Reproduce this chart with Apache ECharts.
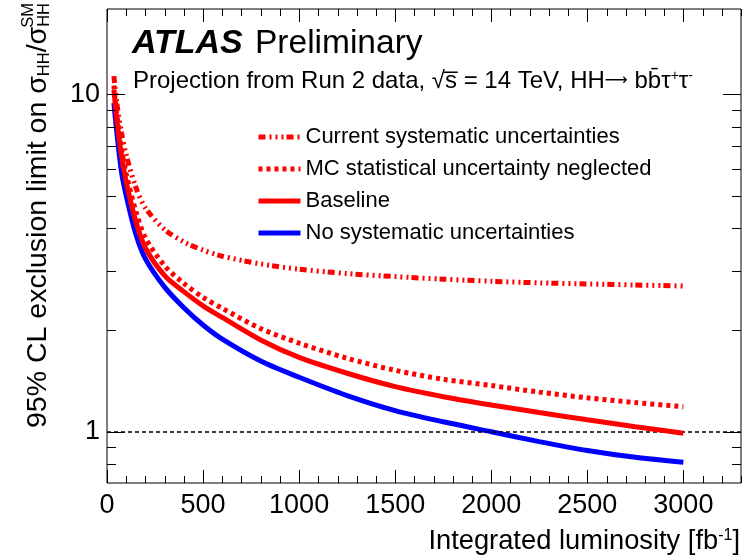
<!DOCTYPE html>
<html>
<head>
<meta charset="utf-8">
<script src="https://cdn.jsdelivr.net/npm/echarts@6/dist/echarts.min.js"></script>
<style>
  html, body { margin: 0; padding: 0; background: #fff; }
  #chart { width: 756px; height: 560px; }
</style>
</head>
<body>
<div id="chart"></div>
<script>
  // integrated luminosity points [fb-1]
  var lumi = [36, 50, 75, 100, 150, 200, 300, 400, 500, 600, 800, 1000, 1250, 1500, 1750, 2000, 2250, 2500, 2750, 3000];
  // 95% CL limit on sigma_HH / sigma_HH^SM
  var currentSyst = [11.3, 9.5, 7.7, 6.6, 5.3, 4.6, 3.97, 3.65, 3.45, 3.31, 3.14, 3.03, 2.94, 2.88, 2.83, 2.79, 2.76, 2.74, 2.72, 2.70];
  var mcStatNeglected = [10.6, 8.8, 6.9, 5.8, 4.5, 3.75, 3.1, 2.75, 2.5, 2.32, 2.02, 1.83, 1.65, 1.52, 1.43, 1.37, 1.31, 1.26, 1.22, 1.186];
  var baseline = [10.3, 8.5, 6.6, 5.5, 4.2, 3.5, 2.9, 2.6, 2.36, 2.18, 1.87, 1.66, 1.49, 1.36, 1.27, 1.2, 1.14, 1.085, 1.035, 0.99];
  var noSyst = [9.4, 7.8, 5.9, 5.0, 3.85, 3.25, 2.68, 2.33, 2.07, 1.88, 1.62, 1.45, 1.28, 1.155, 1.07, 1.0, 0.935, 0.88, 0.84, 0.812];

  var seriesNames = ['Current systematic uncertainties', 'MC statistical uncertainty neglected', 'Baseline', 'No systematic uncertainties'];
  var yLabels = [1, 10];
  var yTicks = [0.8, 0.9, 1, 2, 3, 4, 5, 6, 7, 8, 9, 10];
  var xTicks = [];
  for (var t = 0; t <= 3300; t += 100) xTicks.push(t);

  var FONT = '"Liberation Sans", Arial, Helvetica, sans-serif';
  var X_MIN = 0, X_MAX = 3300, Y_MIN = 0.705, Y_MAX = 17.86;

  function pairs(vals) {
    return lumi.map(function (x, i) { return [x, vals[i]]; });
  }

  function lineSeries(name, vals, color, dash, z) {
    return {
      name: name,
      type: 'line',
      data: pairs(vals),
      smooth: 0.3,
      symbol: 'none',
      z: z,
      lineStyle: { color: color, width: 5, type: dash, cap: 'butt' },
      itemStyle: { color: color }
    };
  }

  var chart = echarts.init(document.getElementById('chart'), null, { renderer: 'canvas' });

  var series = [
    lineSeries(seriesNames[0], currentSyst, '#ff0000', [7, 4, 2, 4, 2, 4, 2, 3], 5),
    lineSeries(seriesNames[1], mcStatNeglected, '#ff0000', [4, 4], 5),
    lineSeries(seriesNames[2], baseline, '#ff0000', 'solid', 5),
    lineSeries(seriesNames[3], noSyst, '#0000ff', 'solid', 4)
  ];
  series[3].markLine = {
    silent: true,
    symbol: 'none',
    label: { show: false },
    lineStyle: { color: '#000', width: 1.5, type: [4, 3] },
    data: [{ yAxis: 1 }]
  };

  // ROOT style inward ticks on all four sides
  series.push({
    type: 'custom',
    silent: true,
    z: 10,
    data: xTicks.map(function (v) { return [v, 1]; }),
    renderItem: function (params, api) {
      var v = api.value(0);
      var cs = params.coordSys;
      var x = Math.round(api.coord([v, 1])[0]) + 0.5;
      var len = v % 500 === 0 ? 13 : 7;
      var st = { stroke: '#000', lineWidth: 1 };
      return {
        type: 'group',
        children: [
          { type: 'line', shape: { x1: x, y1: cs.y + cs.height, x2: x, y2: cs.y + cs.height - len }, style: st },
          { type: 'line', shape: { x1: x, y1: cs.y, x2: x, y2: cs.y + len }, style: st }
        ]
      };
    }
  });
  series.push({
    type: 'custom',
    silent: true,
    z: 10,
    data: yTicks.map(function (v) { return [0, v]; }),
    renderItem: function (params, api) {
      var v = api.value(1);
      var cs = params.coordSys;
      var y = Math.round(api.coord([0, v])[1]) + 0.5;
      var len = yLabels.indexOf(v) >= 0 ? 18 : 9;
      var st = { stroke: '#000', lineWidth: 1 };
      return {
        type: 'group',
        children: [
          { type: 'line', shape: { x1: cs.x, y1: y, x2: cs.x + len, y2: y }, style: st },
          { type: 'line', shape: { x1: cs.x + cs.width, y1: y, x2: cs.x + cs.width - len, y2: y }, style: st }
        ]
      };
    }
  });

  var option = {
    animation: false,
    backgroundColor: '#fff',
    grid: {
      left: 107, right: 15, top: 9, bottom: 77,
      show: true, borderColor: '#000', borderWidth: 1, backgroundColor: 'transparent'
    },
    legend: {
      data: seriesNames,
      orient: 'vertical',
      left: 251,
      top: 121,
      itemWidth: 42,
      itemHeight: 22,
      itemGap: 10,
      selectedMode: false,
      itemStyle: { opacity: 0 },
      lineStyle: { width: 5 },
      textStyle: { fontSize: 22, color: '#000', fontFamily: FONT }
    },
    xAxis: {
      type: 'value',
      min: X_MIN,
      max: X_MAX,
      interval: 500,
      axisLine: { show: false },
      axisTick: { show: false },
      splitLine: { show: false },
      axisLabel: {
        color: '#000', fontSize: 27, fontFamily: FONT, margin: 9,
        showMaxLabel: false,
        formatter: function (v) { return String(v); }
      }
    },
    yAxis: {
      type: 'log',
      logBase: 10,
      min: Y_MIN,
      max: Y_MAX,
      axisLine: { show: false },
      axisTick: { show: false },
      splitLine: { show: false },
      axisLabel: {
        color: '#000', fontSize: 27, fontFamily: FONT, margin: 7,
        showMinLabel: false, showMaxLabel: false,
        formatter: function (v) {
          for (var i = 0; i < yLabels.length; i++) {
            if (Math.abs(v - yLabels[i]) < 1e-6) return String(yLabels[i]);
          }
          return '';
        }
      }
    },
    graphic: {
      elements: [
        {
          type: 'text', x: 132, y: 44,
          style: {
            text: 'ATLAS',
            fontSize: 34, fontWeight: 'bold', fontStyle: 'italic', fontFamily: FONT, fill: '#000',
            align: 'left', verticalAlign: 'middle', textAlign: 'left', textVerticalAlign: 'middle'
          }
        },
        {
          type: 'text', x: 255, y: 44,
          style: {
            text: 'Preliminary',
            fontSize: 33.5, fontFamily: FONT, fill: '#000',
            align: 'left', verticalAlign: 'middle', textAlign: 'left', textVerticalAlign: 'middle'
          }
        },
        {
          type: 'text', x: 133, y: 81,
          style: {
            text: 'Projection from Run 2 data, \u221As\u0305 = 14 TeV, HH{arr|\u27f6} bb\u0304\u03c4{sup|+}\u03c4{sup|-}',
            fontSize: 24, fontFamily: FONT, fill: '#000',
            align: 'left', verticalAlign: 'middle',
            textAlign: 'left', textVerticalAlign: 'middle',
            rich: {
              arr: { fontSize: 16, fontFamily: '"DejaVu Sans", sans-serif', fill: '#000' },
              sup: { fontSize: 14, fontFamily: FONT, fill: '#000', verticalAlign: 'top' }
            }
          }
        },
        {
          type: 'text', x: 740, y: 541,
          style: {
            text: 'Integrated luminosity [fb{sup|-1}]',
            fontSize: 27.3, fontFamily: FONT, fill: '#000',
            align: 'right', verticalAlign: 'middle',
            textAlign: 'right', textVerticalAlign: 'middle',
            rich: {
              sup: { fontSize: 16, fontFamily: FONT, fill: '#000', verticalAlign: 'top' }
            }
          }
        },
        {
          type: 'group', x: 38, y: 3, rotation: Math.PI / 2,
          children: [
            {
              type: 'text', x: 0, y: 0,
              style: {
                text: '95% CL exclusion limit on \u03c3{sub|HH}/\u03c3{sub|HH}',
                fontSize: 28.5, fontFamily: FONT, fill: '#000',
                align: 'right', verticalAlign: 'middle',
                textAlign: 'right', textVerticalAlign: 'middle',
                rich: {
                  sub: { fontSize: 16.5, fontFamily: FONT, fill: '#000', verticalAlign: 'bottom' }
                }
              }
            },
            {
              type: 'text', x: 0, y: -10,
              style: {
                text: 'SM', fontSize: 16.5, fontFamily: FONT, fill: '#000',
                align: 'right', verticalAlign: 'middle',
                textAlign: 'right', textVerticalAlign: 'middle'
              }
            }
          ]
        }
      ]
    },
    series: series
  };

  chart.setOption(option);
</script>
</body>
</html>
